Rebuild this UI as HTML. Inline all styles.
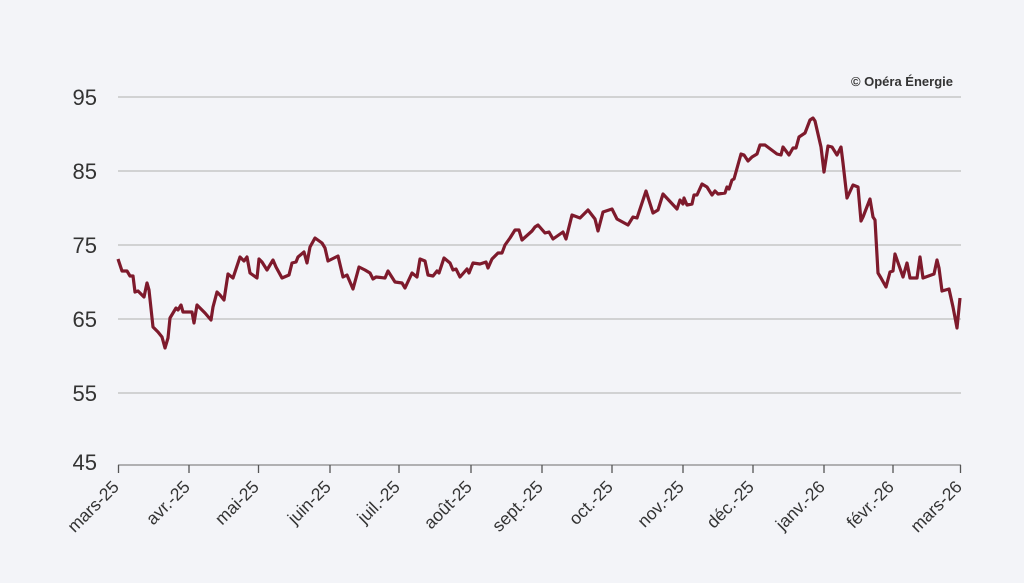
<!DOCTYPE html>
<html><head><meta charset="utf-8"><style>
html,body{margin:0;padding:0;background:#f3f4f8;}
svg{display:block;font-family:"Liberation Sans",sans-serif;}
</style></head><body>
<svg width="1024" height="583" viewBox="0 0 1024 583">
<rect width="1024" height="583" fill="#f3f4f8"/>
<g stroke="#bdbdbd" stroke-width="1.3">
<line x1="118" y1="97" x2="961" y2="97"/>
<line x1="118" y1="171" x2="961" y2="171"/>
<line x1="118" y1="245" x2="961" y2="245"/>
<line x1="118" y1="319" x2="961" y2="319"/>
<line x1="118" y1="393" x2="961" y2="393"/>
</g>
<line x1="118" y1="465" x2="961" y2="465" stroke="#888" stroke-width="1.3"/>
<g stroke="#555" stroke-width="1.3">
<line x1="118.5" y1="465" x2="118.5" y2="473"/><line x1="189" y1="465" x2="189" y2="473"/><line x1="258.5" y1="465" x2="258.5" y2="473"/><line x1="330" y1="465" x2="330" y2="473"/><line x1="399" y1="465" x2="399" y2="473"/><line x1="471" y1="465" x2="471" y2="473"/><line x1="542" y1="465" x2="542" y2="473"/><line x1="612" y1="465" x2="612" y2="473"/><line x1="683" y1="465" x2="683" y2="473"/><line x1="753" y1="465" x2="753" y2="473"/><line x1="824" y1="465" x2="824" y2="473"/><line x1="893" y1="465" x2="893" y2="473"/><line x1="960.5" y1="465" x2="960.5" y2="473"/>
</g>
<g fill="#333" font-size="22" text-anchor="end">
<text x="97" y="105">95</text><text x="97" y="179">85</text><text x="97" y="253">75</text><text x="97" y="327">65</text><text x="97" y="401">55</text><text x="97" y="470">45</text>
</g>
<g fill="#333" font-size="17.5" text-anchor="end">
<text transform="translate(120,488) rotate(-45)">mars-25</text>
<text transform="translate(191,488) rotate(-45)">avr.-25</text>
<text transform="translate(260,488) rotate(-45)">mai-25</text>
<text transform="translate(332,488) rotate(-45)">juin-25</text>
<text transform="translate(401,488) rotate(-45)">juil.-25</text>
<text transform="translate(473,488) rotate(-45)">août-25</text>
<text transform="translate(544,488) rotate(-45)">sept.-25</text>
<text transform="translate(614,488) rotate(-45)">oct.-25</text>
<text transform="translate(685,488) rotate(-45)">nov.-25</text>
<text transform="translate(755,488) rotate(-45)">déc.-25</text>
<text transform="translate(826,488) rotate(-45)">janv.-26</text>
<text transform="translate(895,488) rotate(-45)">févr.-26</text>
<text transform="translate(963,488) rotate(-45)">mars-26</text>
</g>
<text x="953" y="86" fill="#333" font-size="13" font-weight="bold" text-anchor="end">© Opéra Énergie</text>
<polyline fill="none" stroke="#7e1a2c" stroke-width="3.2" stroke-linejoin="round" points="118,259 122,271 127,271 130,276 133,276 135,292 138,291 144,297 147,283 149,290 153,327 158,332 162,337 165,348 168,338 170,318 176,308 178,310 181,305 183,312 192,312 194,323 197,305 200,308 205,313 211,320 213,307 217,292 220,295 224,300 228,274 233,278 240,257 244,261 247,257 250,273 257,278 259,259 262,262 267,270 273,260 276,267 282,278 289,275 292,263 296,262 298,257 304,252 307,263 310,247 315,238 322,243 325,248 328,261 338,256 343,277 347,275 353,289 359,267 365,270 370,273 373,279 376,277 385,278 388,271 395,282 402,283 405,288 412,273 417,277 420,259 425,261 428,275 433,276 437,271 439,273 444,258 450,263 453,270 456,269 460,277 467,269 469,273 473,263 480,264 486,262 488,268 492,259 498,253 502,253 505,245 510,238 515,230 519,230 522,240 532,231 535,227 538,225 545,233 549,232 553,239 563,232 566,239 572,215 580,218 588,210 595,219 598,231 603,212 612,209 617,219 628,225 633,217 637,218 646,191 653,213 658,210 663,194 677,209 680,200 683,204 684,198 687,205 692,204 694,195 697,195 702,184 707,187 712,195 715,191 718,194 725,193 727,187 729,189 732,180 734,179 741,154 744,155 748,161 752,157 757,154 760,145 765,145 777,154 781,155 783,147 789,155 793,148 796,148 799,137 805,133 810,120 813,118 815,121 821,147 824,172 828,146 832,147 837,155 841,147 843,163 847,198 853,185 858,187 861,221 863,217 870,199 873,217 875,220 878,273 881,278 886,287 890,272 893,271 895,254 903,277 907,263 910,278 917,278 920,257 923,278 934,274 937,260 939,268 942,291 949,289 953,307 957,328 960,298"/>
</svg>
</body></html>
